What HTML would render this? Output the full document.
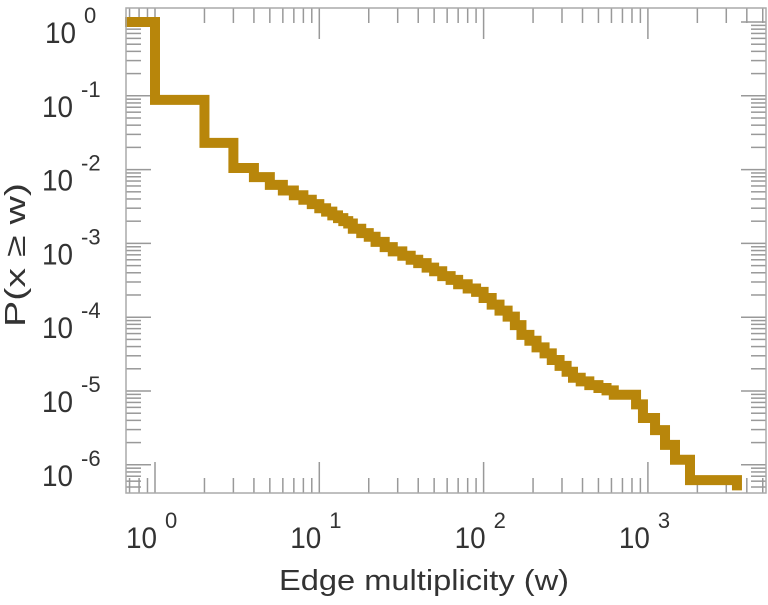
<!DOCTYPE html>
<html><head><meta charset="utf-8"><style>
body{margin:0;background:#fff;}
svg text{font-family:"Liberation Sans",sans-serif;fill:#333;}
</style></head><body>
<svg id="chart" width="768" height="600" xmlns="http://www.w3.org/2000/svg">
<g id="ticks"></g>
<g id="labels"></g>
<path id="line" fill="none" stroke="#b8860b" stroke-width="10" stroke-linejoin="miter" stroke-linecap="butt"/>
<rect x="126" y="8" width="640" height="485" fill="none" stroke="#aaa" stroke-width="1.5"/>
<text x="424" y="590" font-size="29" text-anchor="middle" textLength="290" lengthAdjust="spacingAndGlyphs">Edge multiplicity (w)</text>
<text transform="translate(25,255) rotate(-90)" font-size="29" text-anchor="middle" textLength="144" lengthAdjust="spacingAndGlyphs">P(x ≥ w)</text>
</svg>
<script>
const wValues=[1,2,3,4,5,6,7,8,9,10,11,12,13,14,15,16,18,20,22,25,28,32,36,40,45,50,56,63,70,80,90,100,112,125,140,155,170,190,210,235,260,290,320,350,390,440,500,560,620,847,933,1105,1271,1462,1804,3484];
const pValues=[1,0.088,0.023,0.0105,0.0079,0.0062,0.0052,0.0045,0.0039,0.0034,0.0030,0.0027,0.0024,0.0022,0.0020,0.00186,0.00158,0.00138,0.00123,0.00105,0.00089,0.00078,0.00068,0.00060,0.00054,0.00047,0.00042,0.00036,0.00032,0.00028,0.000245,0.00022,0.000182,0.000148,0.000123,0.000102,0.000078,0.0000575,0.000048,0.000039,0.0000324,0.0000263,0.0000219,0.0000182,0.0000151,0.0000135,0.000012,0.000011,0.0000102,0.0000089,0.0000066,0.0000043,0.00000295,0.00000186,0.00000117,0.00000062];
const endP=0.00000045;
const xExps=[0,1,2,3];
const yExps=[0,-1,-2,-3,-4,-5,-6];
const L=126,R=766,T=8,B=493;
function X(w){return 155+Math.log10(w)*164.3;}
function Y(p){return 22-Math.log10(p)*73.8;}
const ns="http://www.w3.org/2000/svg";
let d="M"+(X(wValues[0])-30)+","+Y(pValues[0]);
for(let i=0;i<wValues.length;i++){
  d+=" L"+X(wValues[i])+","+Y(pValues[i]);
  const nextP=i+1<pValues.length?pValues[i+1]:endP;
  d+=" L"+X(wValues[i])+","+Y(nextP);
}
document.getElementById('line').setAttribute('d',d);
const tg=document.getElementById('ticks'),lg=document.getElementById('labels');
function ln(x1,y1,x2,y2){const l=document.createElementNS(ns,'line');
l.setAttribute('x1',x1);l.setAttribute('y1',y1);l.setAttribute('x2',x2);l.setAttribute('y2',y2);
l.setAttribute('stroke','#999');l.setAttribute('stroke-width','1.5');


tg.appendChild(l);}
for(let e=-1;e<=3;e++){for(let k=1;k<10;k++){const x=X(k*Math.pow(10,e));if(x<L||x>R)continue;
 const len=k===1?31:15;ln(x,B,x,B-len);ln(x,T,x,T+len);}}
for(let e=-7;e<=0;e++){for(let k=1;k<10;k++){const y=Y(k*Math.pow(10,e));if(y<T||y>B)continue;
 const len=k===1?25:15;ln(L,y,L+len,y);ln(R,y,R-len,y);}}
function lab(x,y,exp,name){const t=document.createElementNS(ns,'text');
t.setAttribute('x',x);t.setAttribute('y',y);t.setAttribute('font-size','30');


t.innerHTML='<tspan textLength="31" lengthAdjust="spacingAndGlyphs">10</tspan><tspan dx="8" dy="-20" font-size="22">'+exp+'</tspan>';lg.appendChild(t);}
xExps.forEach(e=>lab(X(Math.pow(10,e))-29,548,e,'x-tick-label'));
yExps.forEach(e=>lab(e===0?45:42,Y(Math.pow(10,e))+21,e,'y-tick-label'));
</script>
</body></html>
